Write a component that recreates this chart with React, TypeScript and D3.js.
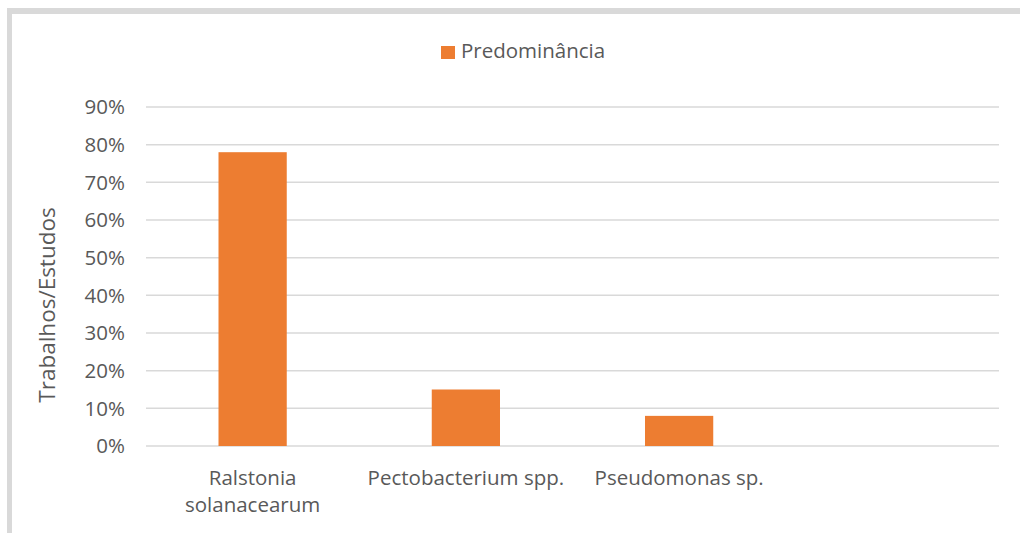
import * as d3 from 'd3';
import * as React from 'react';

const categories = ['Ralstonia\nsolanacearum', 'Pectobacterium spp.', 'Pseudomonas sp.', ''];
const values = [0.78, 0.15, 0.08, null];
const yTicks = [0, 0.1, 0.2, 0.3, 0.4, 0.5, 0.6, 0.7, 0.8, 0.9];
const seriesName = 'Predominância';
const yTitle = 'Trabalhos/Estudos';

const W = 1020;
const H = 533;
const FONT = '"Open Sans", "Noto Sans", sans-serif';
const TEXT = '#595959';
const BAR = '#ED7D31';

export default function App() {
  const margin = { left: 146, right: 21, top: 107, bottom: 87 };

  const x = React.useMemo(
    () => d3.scaleBand<number>().domain(d3.range(categories.length)).range([margin.left, W - margin.right]),
    [],
  );
  const y = React.useMemo(
    () => d3.scaleLinear().domain([0, 0.9]).range([H - margin.bottom, margin.top]),
    [],
  );
  const barW = x.bandwidth() * 0.32;
  const fmt = d3.format('.0%');

  return (
    <svg
      width={W}
      height={H}
      style={{ position: 'fixed', left: 0, top: 0, background: '#fff' }}
      fontFamily={FONT}
    >
      <rect x={0} y={0} width={W} height={H} fill="#fff" />
      {/* frame, only top and left edges visible */}
      <rect x={7} y={8} width={W - 7} height={6} fill="#d9d9d9" />
      <rect x={7} y={8} width={5} height={H - 8} fill="#d9d9d9" />

      {/* legend */}
      <rect x={441} y={46} width={14} height={13} fill={BAR} />
      <text x={461} y={58} fontSize={20.5} fill={TEXT}>
        {seriesName}
      </text>

      {/* grid + y ticks */}
      {yTicks.map((t) => (
        <g key={t}>
          <line
            x1={margin.left}
            x2={W - margin.right}
            y1={y(t)}
            y2={y(t)}
            stroke="#d9d9d9"
            strokeWidth={1.5}
          />
          <text x={125} y={y(t)} dy="0.36em" textAnchor="end" fontSize={20.5} fill={TEXT}>
            {fmt(t)}
          </text>
        </g>
      ))}

      {/* bars */}
      {values.map((v, i) =>
        v == null ? null : (
          <rect
            key={i}
            x={(x(i) as number) + (x.bandwidth() - barW) / 2}
            y={y(v)}
            width={barW}
            height={y(0) - y(v)}
            fill={BAR}
          />
        ),
      )}

      {/* category labels */}
      {categories.map((c, i) => (
        <text
          key={i}
          x={(x(i) as number) + x.bandwidth() / 2}
          y={485}
          textAnchor="middle"
          fontSize={20.5}
          fill={TEXT}
        >
          {c.split('\n').map((line, j) => (
            <tspan key={j} x={(x(i) as number) + x.bandwidth() / 2} dy={j === 0 ? 0 : 27}>
              {line}
            </tspan>
          ))}
        </text>
      ))}

      {/* y title */}
      <text
        transform={`translate(55, 305) rotate(-90)`}
        textAnchor="middle"
        fontSize={22.5}
        fill={TEXT}
      >
        {yTitle}
      </text>
    </svg>
  );
}
